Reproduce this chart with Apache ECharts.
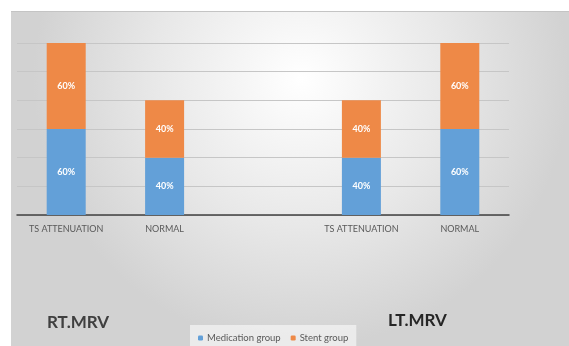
<!DOCTYPE html>
<html>
<head>
<meta charset="utf-8">
<script src="https://cdn.jsdelivr.net/npm/echarts@6/dist/echarts.min.js"></script>
<style>
	html, body { margin: 0; padding: 0; background: #fff; }
	.chart-panel {
		position: absolute;
		left: 11px;
		top: 11px;
		width: 558px;
		height: 335px;
		border-top: 1px solid #c4c4c4;
	}
	#chart { width: 100%; height: 100%; }
</style>
</head>
<body>
<div class="chart-panel"><div id="chart"></div></div>
<script>
const categories = ['TS ATTENUATION', 'NORMAL', '', 'TS ATTENUATION', 'NORMAL']
const medicationGroup = [60, 40, null, 40, 60]
const stentGroup = [60, 40, null, 40, 60]
const seriesNames = ['Medication group', 'Stent group']

const chart = echarts.init(document.getElementById('chart'))

const barLabel = {
	show: true,
	position: 'inside',
	formatter: '{c}%',
	color: '#fff',
	fontWeight: 'bold',
	fontSize: 9,
	fontFamily: 'Lato'
}

const option = {
	animation: false,
	backgroundColor: {
		type: 'radial', x: 0.52, y: 0.2, r: 0.8,
		colorStops: [
			{ offset: 0, color: '#ffffff' },
			{ offset: 0.55, color: '#e8e8e8' },
			{ offset: 1, color: '#d2d2d2' }
		]
	},
	textStyle: { fontFamily: 'Lato' },
	grid: { left: 6, right: 60, top: 31, bottom: 132 },
	legend: {
		data: seriesNames,
		bottom: -4,
		left: 179,
		itemWidth: 5,
		itemHeight: 5,
		itemGap: 10,
		padding: [8, 8],
		backgroundColor: 'rgba(245,245,245,0.7)',
		textStyle: { color: '#595959', fontSize: 9.5, fontFamily: 'Lato', padding: [0, 0, 0, -1] }
	},
	xAxis: {
		type: 'category',
		data: categories,
		axisTick: { show: false },
		axisLine: { lineStyle: { color: '#404040', width: 1.5 } },
		axisLabel: { color: '#595959', fontSize: 9, margin: 10, interval: 0 }
	},
	yAxis: {
		type: 'value',
		min: 0,
		max: 120,
		interval: 20,
		axisLabel: { show: false },
		axisLine: { show: false },
		splitLine: { lineStyle: { color: '#c6c6c6' } }
	},
	graphic: [
		{ type: 'text', left: 36, top: 302, style: { text: 'RT.MRV', font: 'bold 17px Lato', fill: '#404040' } },
		{ type: 'text', left: 377, top: 300, style: { text: 'LT.MRV', font: 'bold 17px Lato', fill: '#262626' } }
	],
	series: [
		{
			name: seriesNames[0],
			type: 'bar',
			stack: 'total',
			barWidth: 39,
			data: medicationGroup,
			itemStyle: { color: '#63a0d8' },
			label: barLabel
		},
		{
			name: seriesNames[1],
			type: 'bar',
			stack: 'total',
			barWidth: 39,
			data: stentGroup,
			itemStyle: { color: '#ee8947' },
			label: barLabel
		}
	]
}

chart.setOption(option)
</script>
</body>
</html>
